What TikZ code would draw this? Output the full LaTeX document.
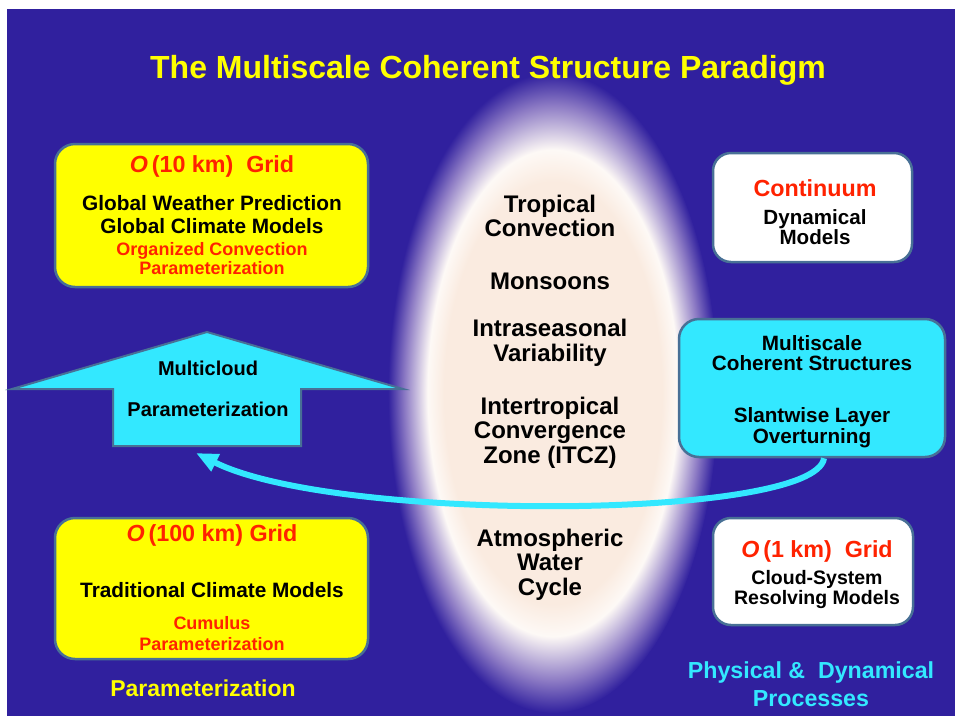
\documentclass[tikz,border=0pt]{standalone}
\usepackage{fontspec}
\setmainfont{Liberation Sans}
\usetikzlibrary{arrows.meta}
\definecolor{bgblue}{RGB}{48,32,158}
\definecolor{peach}{RGB}{250,235,224}
\definecolor{lav}{RGB}{140,122,196}
\definecolor{hotred}{RGB}{255,34,0}
\definecolor{skycyan}{RGB}{51,232,255}
\definecolor{edgeblue}{RGB}{72,112,150}
\definecolor{lemon}{RGB}{255,255,0}
\pgfdeclareradialshading{glow}{\pgfpoint{0bp}{0bp}}{color(0bp)=(peach); color(16.5bp)=(peach); color(19bp)=(white!70!peach); color(22.5bp)=(lav); color(25bp)=(bgblue); color(50bp)=(bgblue)}

\begin{document}
\begin{tikzpicture}[x=1pt, y=-1pt,
    box/.style={rounded corners=20pt, draw=edgeblue, line width=2.5pt, inner sep=0pt},
    big/.style={text=hotred, font=\fontsize{23.3pt}{26pt}\bfseries\selectfont},
    body/.style={align=center, font=\fontsize{20.8pt}{23pt}\bfseries\selectfont},
    small/.style={align=center, text=hotred, font=\fontsize{18pt}{19pt}\bfseries\selectfont},
    zone/.style={align=center, font=\fontsize{24pt}{24.5pt}\bfseries\selectfont}]
    \useasboundingbox (0,0) rectangle (955,716);
    % Nền
    \fill[white] (0,0) rectangle (955,716);
    \fill[bgblue] (7,9) rectangle (955,716);
    \shade[shading=glow] (553,393) ellipse [x radius=165, y radius=320];

    % Tiêu đề
    \node[text=lemon, font=\fontsize{32pt}{36pt}\bfseries\selectfont] (title) at (488,70) {The Multiscale Coherent Structure Paradigm};

    % Hộp bên trái
    \node[box, fill=lemon, minimum width=313pt, minimum height=143pt] (grid10) at (211.5,215.5) {};
    \node[big] (g10) at (212,166) {\textit{O}\,(10 km)\ \ Grid};
    \node[body] (gwp) at (212,214.5) {Global Weather Prediction\\Global Climate Models};
    \node[small] (ocp) at (212,258.5) {Organized Convection\\Parameterization};

    \node[box, fill=lemon, minimum width=313pt, minimum height=141pt] (grid100) at (211.5,588.5) {};
    \node[big] (g100) at (212,535) {\textit{O}\,(100 km)\ Grid};
    \node[body] (tcm) at (212,590) {Traditional Climate\ Models};
    \node[small, font=\fontsize{18pt}{21pt}\bfseries\selectfont] (cp) at (212,633.5) {Cumulus\\Parameterization};
    \node[text=lemon, font=\fontsize{23pt}{26pt}\bfseries\selectfont] (param) at (203,688) {Parameterization};

    % Mũi tên lên
    \draw[fill=skycyan, draw=edgeblue, line width=2pt, line join=miter]
        (113,446) -- (113,389) -- (12,389) -- (207,332) -- (403,389) -- (301,389) -- (301,446) -- cycle;
    \node[body, font=\fontsize{20pt}{41pt}\bfseries\selectfont] (mcloud) at (208,388.5) {Multicloud\\Parameterization};

    % Vùng giữa
    \node[zone] (trop) at (550,216) {Tropical\\Convection};
    \node[zone] (mons) at (550,281) {Monsoons};
    \node[zone] (isv) at (550,343) {Intraseasonal\\Variability};
    \node[zone] (itcz) at (550,432.5) {Intertropical\\Convergence\\Zone (ITCZ)};
    \node[zone] (awc) at (550,564.5) {Atmospheric\\Water\\Cycle};

    % Hộp bên phải
    \node[box, rounded corners=18pt, fill=white, minimum width=199pt, minimum height=109pt] (cont) at (812.5,207.5) {};
    \node[big] (contt) at (815,188) {Continuum};
    \node[body, font=\fontsize{20.6pt}{20pt}\bfseries\selectfont] (dyn) at (815,227) {Dynamical\\Models};

    \node[box, fill=skycyan, minimum width=266pt, minimum height=138pt] (struct) at (812,388) {};
    \node[body, font=\fontsize{20.7pt}{20pt}\bfseries\selectfont] (mcs) at (812,353) {Multiscale\\Coherent Structures};
    \node[body, font=\fontsize{20.7pt}{21pt}\bfseries\selectfont] (slo) at (812,427.5) {Slantwise Layer\\Overturning};

    \node[box, rounded corners=18pt, fill=white, minimum width=200pt, minimum height=107pt] (grid1) at (813,571.5) {};
    \node[big] (g1) at (817,551) {\textit{O}\,(1 km)\ \ Grid};
    \node[body, font=\fontsize{19.5pt}{19.5pt}\bfseries\selectfont] (csrm) at (817,589.5) {Cloud-System\\Resolving Models};
    \node[align=center, text=skycyan, font=\fontsize{23.2pt}{28pt}\bfseries\selectfont] (pdp) at (811,684) {Physical\ \&\ \ Dynamical\\Processes};

    % Mũi tên cong
    \coordinate (tip) at (196,453);
    \draw[skycyan, line width=6pt, -{Triangle[length=22pt, width=18pt]}]
        ([xshift=12pt]struct.south) .. controls (815,520) and (336,523) .. (tip);
\end{tikzpicture}
\end{document}
